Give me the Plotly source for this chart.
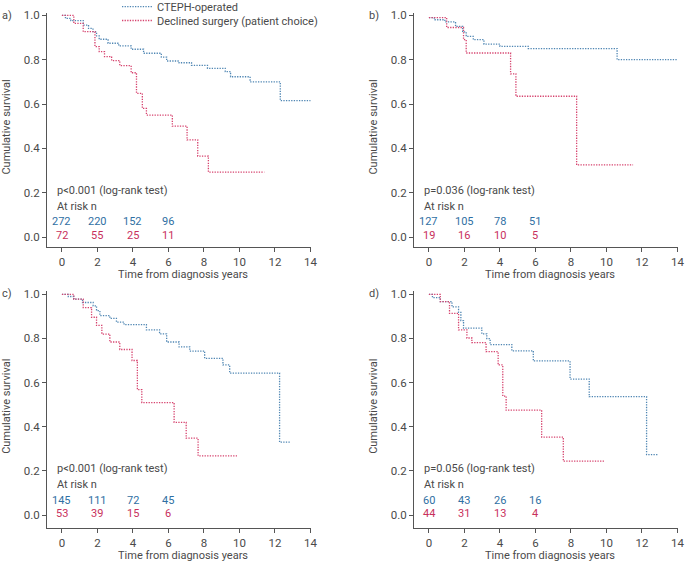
import plotly.graph_objects as go

# ---------------- data ----------------
panel_labels = ["a)", "b)", "c)", "d)"]
series_names = ["CTEPH-operated", "Declined surgery (patient choice)"]

# panel a
a_op_t = [0, 0.2, 0.5, 1.2, 1.5, 1.75, 1.95, 2.1, 2.6, 3.2, 3.9, 4.6, 5.6, 5.9, 6.6, 7.3, 8.2, 9.2, 9.5, 10.6, 12.3, 14.0]
a_op_s = [1.0, 0.986, 0.976, 0.956, 0.941, 0.926, 0.907, 0.892, 0.874, 0.862, 0.847, 0.829, 0.811, 0.794, 0.786, 0.774, 0.761, 0.746, 0.723, 0.70, 0.615, 0.615]
a_dc_t = [0, 0.67, 1.2, 1.86, 2.1, 2.4, 2.8, 3.26, 3.9, 4.2, 4.53, 4.76, 6.22, 7.05, 7.65, 8.25, 11.4]
a_dc_s = [1.0, 0.964, 0.926, 0.859, 0.836, 0.814, 0.796, 0.773, 0.741, 0.648, 0.58, 0.55, 0.50, 0.438, 0.365, 0.293, 0.293]

# panel b
b_op_t = [0, 0.3, 0.9, 1.5, 1.9, 2.1, 2.5, 3.1, 4.0, 5.6, 10.6, 14.0]
b_op_s = [0.99, 0.98, 0.97, 0.95, 0.925, 0.905, 0.89, 0.87, 0.86, 0.85, 0.80, 0.80]
b_dc_t = [0, 1.0, 1.95, 2.1, 4.6, 4.9, 8.32, 11.5]
b_dc_s = [0.99, 0.945, 0.89, 0.83, 0.736, 0.635, 0.325, 0.325]

# panel c
c_op_t = [0, 0.36, 0.67, 1.16, 1.76, 1.95, 2.14, 2.7, 3.07, 3.5, 4.76, 5.5, 5.9, 6.6, 7.2, 8.04, 9.07, 9.45, 12.26, 12.9]
c_op_s = [1.0, 0.99, 0.978, 0.963, 0.948, 0.926, 0.903, 0.891, 0.874, 0.863, 0.839, 0.821, 0.784, 0.762, 0.743, 0.71, 0.68, 0.643, 0.33, 0.33]
c_dc_t = [0, 0.67, 1.2, 1.67, 1.95, 2.25, 2.7, 3.26, 3.95, 4.25, 4.5, 6.32, 7.0, 7.67, 9.86]
c_dc_s = [1.0, 0.978, 0.94, 0.896, 0.859, 0.82, 0.784, 0.75, 0.70, 0.568, 0.509, 0.42, 0.348, 0.268, 0.268]

# panel d
d_op_t = [0, 0.2, 0.64, 1.3, 1.67, 1.8, 1.95, 2.98, 3.26, 3.45, 4.67, 5.88, 7.95, 9.03, 12.26, 12.9]
d_op_s = [1.0, 0.985, 0.967, 0.943, 0.918, 0.881, 0.847, 0.821, 0.799, 0.772, 0.744, 0.698, 0.616, 0.536, 0.274, 0.274]
d_dc_t = [0, 0.64, 1.16, 1.67, 2.14, 2.42, 3.22, 3.9, 4.16, 4.35, 6.35, 7.57, 9.9]
d_dc_s = [1.0, 0.967, 0.914, 0.839, 0.802, 0.781, 0.74, 0.68, 0.539, 0.475, 0.353, 0.244, 0.244]

p_texts = ["p<0.001 (log-rank test)", "p=0.036 (log-rank test)",
           "p<0.001 (log-rank test)", "p=0.056 (log-rank test)"]
risk_times = [0, 2, 4, 6]
a_risk_op = [272, 220, 152, 96]
a_risk_dc = [72, 55, 25, 11]
b_risk_op = [127, 105, 78, 51]
b_risk_dc = [19, 16, 10, 5]
c_risk_op = [145, 111, 72, 45]
c_risk_dc = [53, 39, 15, 6]
d_risk_op = [60, 43, 26, 16]
d_risk_dc = [44, 31, 13, 4]

x_ticks = [0, 2, 4, 6, 8, 10, 12, 14]
y_ticks = [0.0, 0.2, 0.4, 0.6, 0.8, 1.0]
x_title = "Time from diagnosis years"
y_title = "Cumulative survival"
risk_label = "At risk n"

# ---------------- style ----------------
W, H = 688, 562
FONT = "Roboto, sans-serif"
TXT = "#4a4a4a"
AX = "#555555"
BLUE_L = "#4f86b3"
RED_L = "#d6436e"
BLUE_T = "#2f6fa3"
RED_T = "#c8305c"
FS = 11
FS_TICK = 11.5
DASH = "1.3px,1.3px"

panels = [
    dict(op=(a_op_t, a_op_s), dc=(a_dc_t, a_dc_s), rop=a_risk_op, rdc=a_risk_dc,
         xpx=(47, 311), ypx=(13.1, 247), yr=(-0.045, 1.01)),
    dict(op=(b_op_t, b_op_s), dc=(b_dc_t, b_dc_s), rop=b_risk_op, rdc=b_risk_dc,
         xpx=(414, 678), ypx=(13.1, 247), yr=(-0.045, 1.01)),
    dict(op=(c_op_t, c_op_s), dc=(c_dc_t, c_dc_s), rop=c_risk_op, rdc=c_risk_dc,
         xpx=(47, 311), ypx=(291, 527.7), yr=(-0.0575, 1.015)),
    dict(op=(d_op_t, d_op_s), dc=(d_dc_t, d_dc_s), rop=d_risk_op, rdc=d_risk_dc,
         xpx=(414, 678), ypx=(291, 527.7), yr=(-0.0575, 1.015)),
]

fig = go.Figure()
leg_common = dict(xanchor="left", yanchor="middle", bgcolor="rgba(0,0,0,0)",
                  font=dict(size=FS, color=TXT), itemwidth=30, borderwidth=0)
layout = dict(width=W, height=H, margin=dict(l=0, r=0, t=0, b=0, autoexpand=False),
              paper_bgcolor="white", plot_bgcolor="white",
              font=dict(family=FONT, size=FS, color=TXT),
              showlegend=True,
              legend=dict(x=117 / W, y=1 - 6.7 / H, **leg_common),
              legend2=dict(x=117 / W, y=1 - 20.5 / H, **leg_common))
annotations = []

for i, p in enumerate(panels):
    k = "" if i == 0 else str(i + 1)
    xa, ya = "x" + k, "y" + k
    x0, x1 = p["xpx"]
    yt, yb = p["ypx"]
    layout["xaxis" + k] = dict(domain=[x0 / W, x1 / W], range=[-0.84, 14.03], anchor=ya,
                               tickvals=x_ticks, ticks="outside", ticklen=4, tickcolor=AX,
                               showline=True, linecolor=AX, linewidth=1, showgrid=False,
                               zeroline=False, tickfont=dict(size=FS_TICK, color=TXT))
    layout["yaxis" + k] = dict(domain=[1 - yb / H, 1 - yt / H], range=list(p["yr"]), anchor=xa,
                               tickvals=y_ticks, tickformat=".1f", ticks="outside", ticklen=4,
                               tickcolor=AX, showline=True, linecolor=AX, linewidth=1,
                               showgrid=False, zeroline=False, tickfont=dict(size=FS_TICK, color=TXT))
    for j, ((t, s), name, col) in enumerate([(p["op"], series_names[0], BLUE_L),
                                             (p["dc"], series_names[1], RED_L)]):
        fig.add_trace(go.Scatter(x=t, y=s, mode="lines",
                                 line=dict(shape="hv", dash=DASH, width=1.3, color=col),
                                 name=name, showlegend=(i == 0),
                                 legend="legend" if j == 0 else "legend2",
                                 xaxis=xa, yaxis=ya, hoverinfo="skip"))
    annotations.append(dict(x=-0.39, y=0.212, xref=xa, yref=ya, text=p_texts[i], showarrow=False,
                            xanchor="left", yanchor="middle", font=dict(size=FS, color=TXT)))
    annotations.append(dict(x=-0.39, y=0.138, xref=xa, yref=ya, text=risk_label, showarrow=False,
                            xanchor="left", yanchor="middle", font=dict(size=FS, color=TXT)))
    for t, n1, n2 in zip(risk_times, p["rop"], p["rdc"]):
        annotations.append(dict(x=t, y=0.068, xref=xa, yref=ya, text=str(n1), showarrow=False,
                                xanchor="center", yanchor="middle", font=dict(size=FS, color=BLUE_T)))
        annotations.append(dict(x=t, y=0.007, xref=xa, yref=ya, text=str(n2), showarrow=False,
                                xanchor="center", yanchor="middle", font=dict(size=FS, color=RED_T)))
    annotations.append(dict(x=(x0 - 40) / W, y=1 - (yt + 2) / H, xref="paper", yref="paper",
                            text=panel_labels[i], showarrow=False, xanchor="center", yanchor="middle",
                            font=dict(size=FS, color=TXT)))
    annotations.append(dict(x=(x0 - 40.5) / W, y=1 - ((yt + yb) / 2 - 3) / H, xref="paper", yref="paper",
                            text=y_title, showarrow=False, textangle=-90, xanchor="center", yanchor="middle",
                            font=dict(size=FS, color=TXT)))
    annotations.append(dict(x=(x0 + 136) / W, y=1 - (yb + 28) / H, xref="paper", yref="paper",
                            text=x_title, showarrow=False, xanchor="center", yanchor="middle",
                            font=dict(size=FS, color=TXT)))

layout["annotations"] = annotations
fig.update_layout(**layout)
fig.write_html("out.html", config={"displayModeBar": False},
               post_script="document.body.style.margin='0';document.body.style.overflow='hidden';")
